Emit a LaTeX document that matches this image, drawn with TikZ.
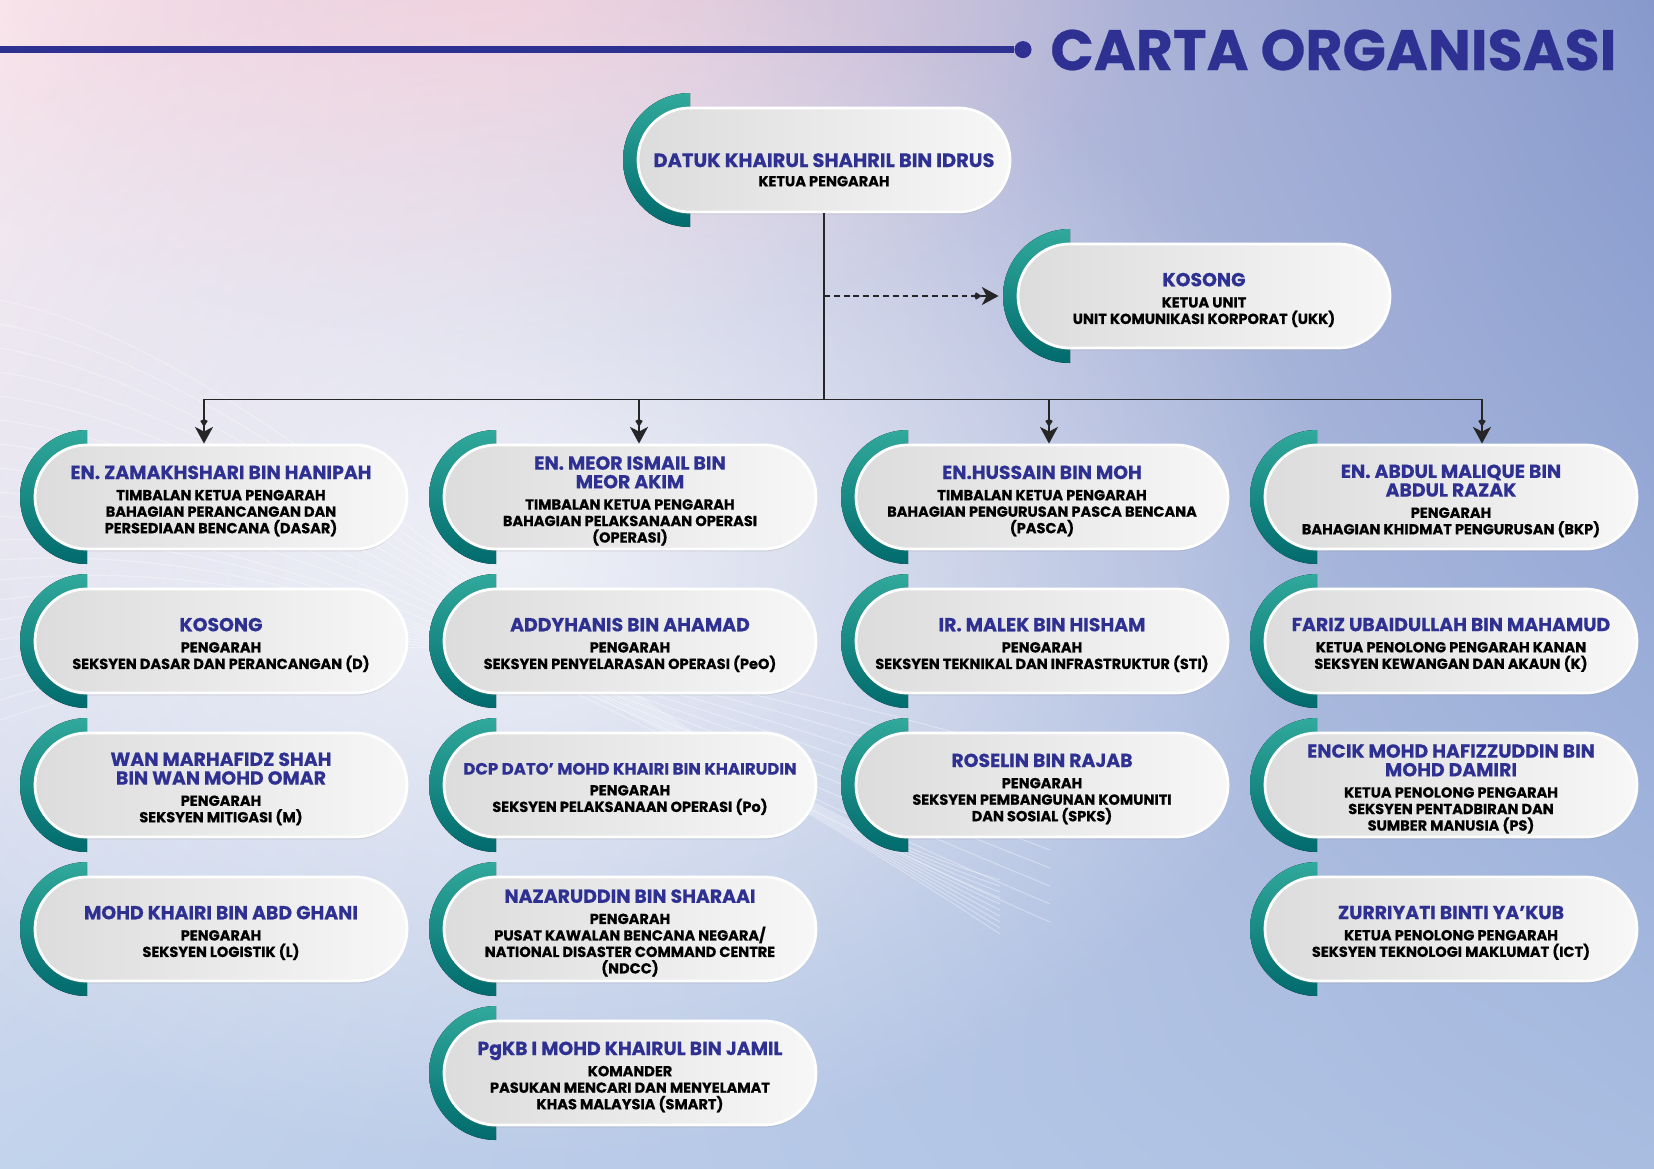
\documentclass[tikz,border=0pt]{standalone}
\usepackage{fontspec}
\setmainfont{Poppins}[BoldFeatures={FakeBold=0.5}]
\usepackage{tikz}
\usetikzlibrary{arrows.meta,calc,positioning,backgrounds,shapes.misc,shadows,shadings,fadings}
\definecolor{inkCol}{HTML}{2E3192}
\definecolor{tealLt}{HTML}{31A99C}
\definecolor{tealDk}{HTML}{006A6C}
\definecolor{pillLt}{HTML}{F7F7F7}
\definecolor{pillDk}{HTML}{DCDCDC}
\definecolor{bgUL}{HTML}{F9E8EE}
\definecolor{bgUR}{HTML}{8799CC}
\definecolor{bgLL}{HTML}{C2D3EC}
\definecolor{bgLR}{HTML}{A9BDE1}
\definecolor{pinkGlow}{HTML}{F9D2DC}
\newcommand{\namefont}{\bfseries\fontsize{9.6}{9.4}\selectfont\color{inkCol}}
\newcommand{\rolefont}{\bfseries\fontsize{7.4}{8.4}\selectfont\color{black}}
% each \\ falls back to the node font, so a second name line needs \nmbr
\newcommand{\nmbr}{\\[1.1pt]\namefont}
\newcommand{\who}[2]{\namefont #1\\[2.4pt]#2}
\tikzfading[name=glow, inner color=transparent!0, outer color=transparent!100]
\tikzset{
  card/.style={rounded rectangle, minimum width=189.4pt, minimum height=53pt, inner sep=0pt,
               left color=pillDk, right color=pillLt, draw=white, line width=1.4pt,
               drop shadow={shadow xshift=0pt, shadow yshift=-1.2pt, opacity=0.22}},
  cardtext/.style={align=center, font=\rolefont, inner sep=0pt},
  tealcap/.style={top color=tealLt, bottom color=tealDk},
  link/.style={draw=black!85, line width=0.8pt},
  arrow/.style={link, -{Kite[length=4pt,width=3.8pt]Stealth[length=8.5pt,width=9.2pt,inset=2.4pt]}},
  dlink/.style={arrow, densely dashed},
  hline/.style={inkCol, line width=3.2pt},
  wave/.style={white, opacity=0.35, line width=0.5pt},
}
% teal half disc, the pill, then its text a little below centre
\newcommand{\card}[5][2]{%
  \fill[tealcap] (#3-134,#4+67) arc[start angle=90, end angle=270, radius=67] -- cycle;
  \node[card] (#2) at (#3,#4) {};
  \node[cardtext] (#2-txt) at ([yshift=-#1pt]#2.center) {#5};}

\begin{document}
\begin{tikzpicture}[x=0.5091pt, y=-0.5091pt]
  \def\cA{221}\def\cB{630}\def\cC{1042}\def\cD{1451}
  \def\rA{497}\def\rB{641}\def\rC{785}\def\rD{929}\def\rE{1073}
  \useasboundingbox (0,0) rectangle (1654,1169);

  % page
  \shade[upper left=bgUL, upper right=bgUR, lower left=bgLL, lower right=bgLR] (0,0) rectangle (1654,1169);
  \fill[pinkGlow, opacity=0.75, path fading=glow] (500,0) ellipse [x radius=650, y radius=340];
  \fill[white, opacity=0.7, path fading=glow] (520,560) ellipse [x radius=820, y radius=600];
  \foreach \k in {0,...,9}{
    \draw[wave] (0,300+\k*24) .. controls (300,360+\k*20) and (600,760-\k*10) .. (1000,880+\k*6);
    \draw[wave] (0,720-\k*20) .. controls (350,600-\k*8) and (650,640+\k*12) .. (1050,760+\k*18);
  }

  % header
  \coordinate (hstart) at (0,49.6);
  \node[circle, fill=inkCol, minimum size=8.7pt, inner sep=0pt] (hdot) at (1023,49.6) {};
  \draw[hline] (hstart) -- (hdot);
  \node[anchor=west, inner sep=0pt, text=inkCol, font=\bfseries\fontsize{29}{29}\selectfont] (title) at (1050,50) {CARTA ORGANISASI};

  % top level
  \card[5]{top}{824}{160}{\namefont\fontsize{9.9}{10.5}\selectfont DATUK KHAIRUL SHAHRIL BIN IDRUS\\[1.4pt]KETUA PENGARAH}
  \card{kos}{1204}{296}{\who{KOSONG}{KETUA UNIT\\UNIT KOMUNIKASI KORPORAT (UKK)}}

  % column A
  \card{a1}{\cA}{\rA}{\who{EN. ZAMAKHSHARI BIN HANIPAH}{TIMBALAN KETUA PENGARAH\\BAHAGIAN PERANCANGAN DAN\\PERSEDIAAN BENCANA (DASAR)}}
  \card{a2}{\cA}{\rB}{\who{KOSONG}{PENGARAH\\SEKSYEN DASAR DAN PERANCANGAN (D)}}
  \card{a3}{\cA}{\rC}{\who{WAN MARHAFIDZ SHAH\nmbr BIN WAN MOHD OMAR}{PENGARAH\\SEKSYEN MITIGASI (M)}}
  \card{a4}{\cA}{\rD}{\who{MOHD KHAIRI BIN ABD GHANI}{PENGARAH\\SEKSYEN LOGISTIK (L)}}

  % column B
  \card{b1}{\cB}{\rA}{\who{EN. MEOR ISMAIL BIN\nmbr MEOR AKIM}{TIMBALAN KETUA PENGARAH\\BAHAGIAN PELAKSANAAN OPERASI\\(OPERASI)}}
  \card{b2}{\cB}{\rB}{\who{ADDYHANIS BIN AHAMAD}{PENGARAH\\SEKSYEN PENYELARASAN OPERASI (PeO)}}
  \card{b3}{\cB}{\rC}{\namefont\fontsize{8.4}{8.6}\selectfont DCP DATO' MOHD KHAIRI BIN KHAIRUDIN\\[2.2pt]PENGARAH\\SEKSYEN PELAKSANAAN OPERASI (Po)}
  \card{b4}{\cB}{\rD}{\who{NAZARUDDIN BIN SHARAAI}{PENGARAH\\PUSAT KAWALAN BENCANA NEGARA/\\NATIONAL DISASTER COMMAND CENTRE\\(NDCC)}}
  \card{b5}{\cB}{\rE}{\who{PgKB I MOHD KHAIRUL BIN JAMIL}{KOMANDER\\PASUKAN MENCARI DAN MENYELAMAT\\KHAS MALAYSIA (SMART)}}

  % column C
  \card{c1}{\cC}{\rA}{\who{EN.HUSSAIN BIN MOH}{TIMBALAN KETUA PENGARAH\\BAHAGIAN PENGURUSAN PASCA BENCANA\\(PASCA)}}
  \card{c2}{\cC}{\rB}{\who{IR. MALEK BIN HISHAM}{PENGARAH\\SEKSYEN TEKNIKAL DAN INFRASTRUKTUR (STI)}}
  \card{c3}{\cC}{\rC}{\who{ROSELIN BIN RAJAB}{PENGARAH\\SEKSYEN PEMBANGUNAN KOMUNITI\\DAN SOSIAL (SPKS)}}

  % column D
  \card{d1}{\cD}{\rA}{\who{EN. ABDUL MALIQUE BIN\nmbr ABDUL RAZAK}{PENGARAH\\BAHAGIAN KHIDMAT PENGURUSAN (BKP)}}
  \card{d2}{\cD}{\rB}{\who{FARIZ UBAIDULLAH BIN MAHAMUD}{KETUA PENOLONG PENGARAH KANAN\\SEKSYEN KEWANGAN DAN AKAUN (K)}}
  \card{d3}{\cD}{\rC}{\who{ENCIK MOHD HAFIZZUDDIN BIN\nmbr MOHD DAMIRI}{KETUA PENOLONG PENGARAH\\SEKSYEN PENTADBIRAN DAN\\SUMBER MANUSIA (PS)}}
  \card{d4}{\cD}{\rD}{\who{ZURRIYATI BINTI YA’KUB}{KETUA PENOLONG PENGARAH\\SEKSYEN TEKNOLOGI MAKLUMAT (ICT)}}

  % connectors
  \draw[link] (top.south) -- ++(0,186) coordinate (bus);
  \foreach \n/\dx in {a1/-17, b1/9, c1/7, d1/31}
    \draw[arrow] (bus) -| ([xshift=\dx*0.5091pt]\n.north);
  \draw[dlink] (bus |- kos.west) -- ([xshift=-9.2pt]kos.west);
\end{tikzpicture}
\end{document}
